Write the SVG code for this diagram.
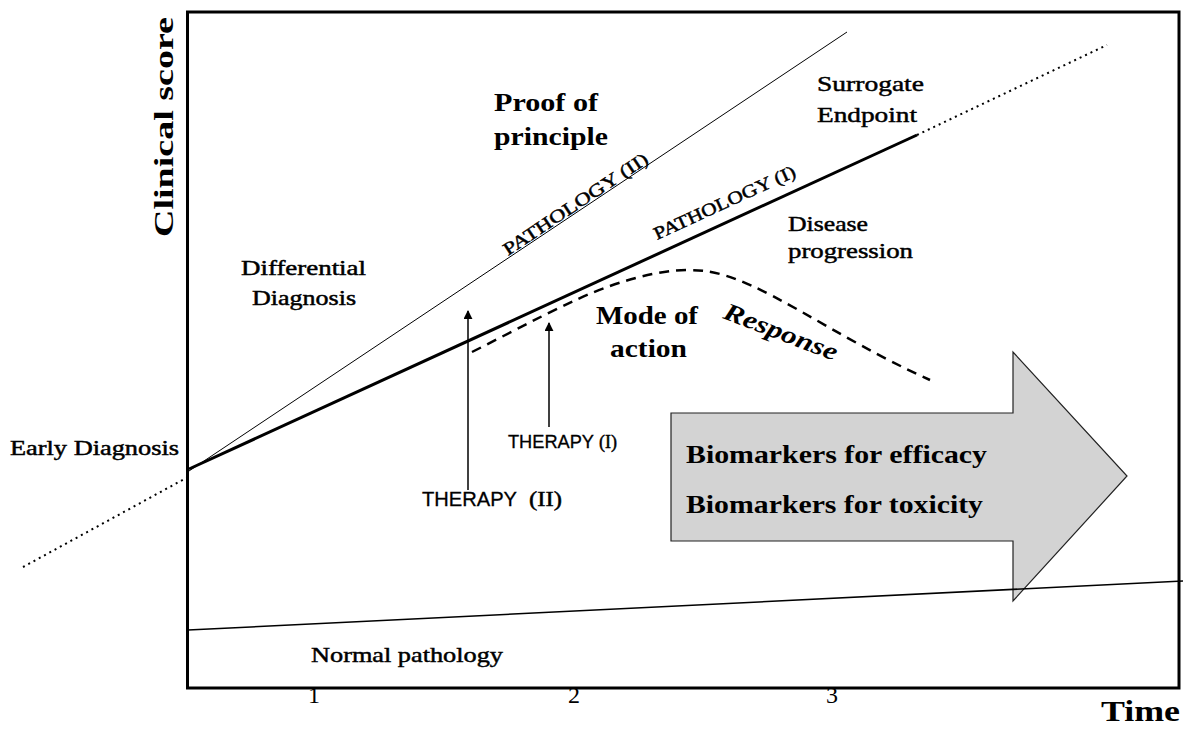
<svg xmlns="http://www.w3.org/2000/svg" width="1183" height="738" viewBox="0 0 1183 738">
<defs>
<style>
.serif{font-family:"Liberation Serif","Times New Roman",serif;fill:#000}
.b{font-weight:bold}
.semi{stroke:#000;stroke-width:0.45}
.sans{font-family:"Liberation Sans",Arial,sans-serif;fill:#000;stroke:#000;stroke-width:0.3}
.thin{stroke:#000;stroke-width:1;fill:none}
.thick{stroke:#000;stroke-width:3;fill:none}
.dot{stroke:#000;stroke-width:2;fill:none;stroke-dasharray:2 4}
.dash{stroke:#000;stroke-width:2.5;fill:none;stroke-dasharray:10 7}
.arr{stroke:#000;stroke-width:1.5;fill:none;marker-end:url(#head)}
</style>
<marker id="head" viewBox="0 0 10 10" refX="9" refY="5" markerWidth="9" markerHeight="9" markerUnits="userSpaceOnUse" orient="auto">
<path d="M0,0 L10,5 L0,10 Z" fill="#000"/>
</marker>
</defs>
<rect width="1183" height="738" fill="#fff"/>
<g id="frame">
<rect x="187.5" y="12" width="991.5" height="676" fill="none" stroke="#000" stroke-width="3"/>
</g>
<g id="big-arrow">
<path d="M671,413 L1013,413 L1013,352 L1127,476 L1013,601 L1013,541 L671,541 Z" fill="#d3d3d3" stroke="#222" stroke-width="1.2"/>
<text class="serif b" x="686" y="463" font-size="25" textLength="301" lengthAdjust="spacingAndGlyphs">Biomarkers for efficacy</text>
<text class="serif b" x="686" y="513" font-size="25" textLength="297" lengthAdjust="spacingAndGlyphs">Biomarkers for toxicity</text>
</g>
<g id="connectors">
<line class="dot" x1="23" y1="567" x2="188" y2="477"/>
<line class="thick" x1="189" y1="469" x2="917" y2="135"/>
<line class="dot" x1="917" y1="135" x2="1107" y2="45"/>
<line class="thin" x1="189" y1="471" x2="847" y2="32"/>
<line stroke="#000" stroke-width="1.5" x1="188" y1="630" x2="1183" y2="581"/>
<path class="dash" d="M472,352 C520,328 570,300 610,286 C650,272 680,268 705,271 C760,278 830,335 930,380"/>
<line class="arr" x1="468" y1="490" x2="468" y2="311"/>
<line class="arr" x1="549" y1="427" x2="549" y2="323"/>
</g>
<g id="axis-labels">
<text class="serif b" transform="translate(173,127) rotate(-90)" text-anchor="middle" font-size="28" textLength="220" lengthAdjust="spacingAndGlyphs">Clinical score</text>
<text class="serif b" x="1101" y="721" font-size="30" textLength="79" lengthAdjust="spacingAndGlyphs">Time</text>
<text class="serif" x="308" y="703" font-size="24">1</text>
<text class="serif" x="568" y="703" font-size="24">2</text>
<text class="serif" x="826" y="703" font-size="24">3</text>
</g>
<g id="early-diagnosis"><text class="serif semi" x="10" y="455" font-size="20" textLength="169" lengthAdjust="spacingAndGlyphs">Early Diagnosis</text></g>
<g id="differential-diagnosis">
<text class="serif semi" x="241" y="275" font-size="20" textLength="125" lengthAdjust="spacingAndGlyphs">Differential</text>
<text class="serif semi" x="252" y="305" font-size="20" textLength="104" lengthAdjust="spacingAndGlyphs">Diagnosis</text>
</g>
<g id="proof-of-principle">
<text class="serif b" x="494" y="111" font-size="26" textLength="104" lengthAdjust="spacingAndGlyphs">Proof of</text>
<text class="serif b" x="494" y="145" font-size="26" textLength="114" lengthAdjust="spacingAndGlyphs">principle</text>
</g>
<g id="surrogate-endpoint">
<text class="serif semi" x="817" y="91" font-size="21" textLength="107" lengthAdjust="spacingAndGlyphs">Surrogate</text>
<text class="serif semi" x="817" y="122" font-size="21" textLength="100" lengthAdjust="spacingAndGlyphs">Endpoint</text>
</g>
<g id="disease-progression">
<text class="serif semi" x="788" y="231" font-size="21" textLength="80" lengthAdjust="spacingAndGlyphs">Disease</text>
<text class="serif semi" x="788" y="258" font-size="21" textLength="125" lengthAdjust="spacingAndGlyphs">progression</text>
</g>
<g id="pathology-2"><text class="serif semi" transform="translate(508,256) rotate(-33.6)" font-size="18" textLength="170" lengthAdjust="spacingAndGlyphs">PATHOLOGY (II)</text></g>
<g id="pathology-1"><text class="serif semi" transform="translate(657,240) rotate(-24.6)" font-size="18" textLength="154" lengthAdjust="spacingAndGlyphs">PATHOLOGY (I)</text></g>
<g id="mode-of-action">
<text class="serif b" x="596" y="324" font-size="26" textLength="102" lengthAdjust="spacingAndGlyphs">Mode of</text>
<text class="serif b" x="610" y="357" font-size="26" textLength="77" lengthAdjust="spacingAndGlyphs">action</text>
</g>
<g id="response"><text class="serif b" font-style="italic" transform="translate(722,318) rotate(21)" font-size="25" textLength="120" lengthAdjust="spacingAndGlyphs">Response</text></g>
<g id="therapy-2">
<text class="sans" x="422" y="506" font-size="20" textLength="95" lengthAdjust="spacingAndGlyphs">THERAPY</text>
<text class="serif semi" x="529" y="506" font-size="20" textLength="33" lengthAdjust="spacingAndGlyphs">(II)</text>
</g>
<g id="therapy-1">
<text class="sans" x="508" y="448" font-size="18" textLength="86" lengthAdjust="spacingAndGlyphs">THERAPY</text>
<text class="serif semi" x="599" y="448" font-size="18" textLength="18" lengthAdjust="spacingAndGlyphs">(I)</text>
</g>
<g id="normal-pathology"><text class="serif semi" x="311" y="662" font-size="21" textLength="192" lengthAdjust="spacingAndGlyphs">Normal pathology</text></g>
</svg>
